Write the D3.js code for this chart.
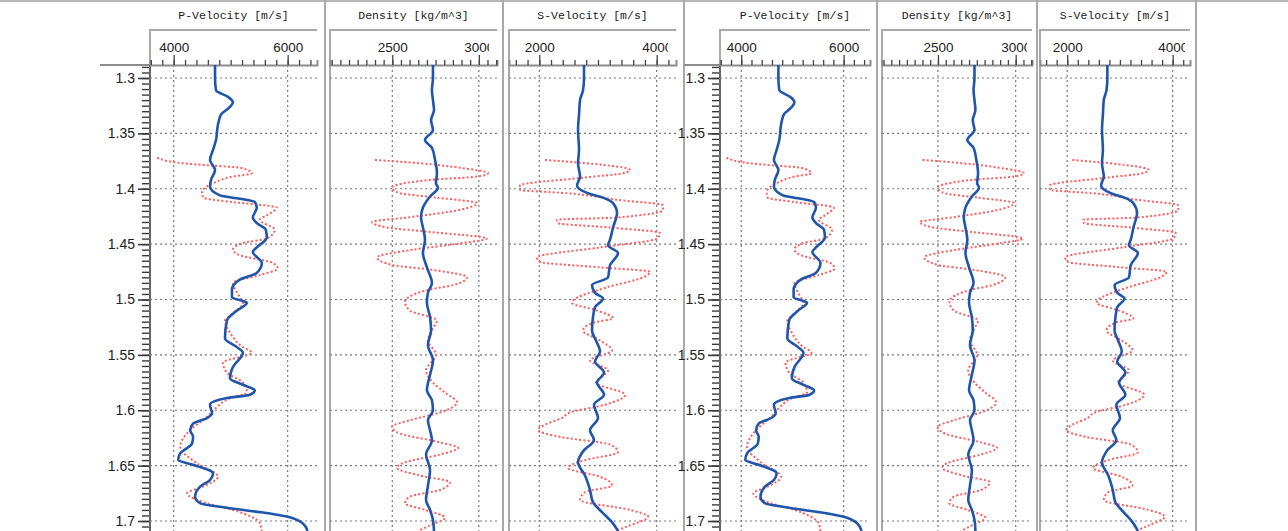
<!DOCTYPE html>
<html>
<head>
<meta charset="utf-8">
<script src="https://cdn.jsdelivr.net/npm/d3@7"></script>
<style>
  body { margin: 0; background: #fff; }
  svg { display: block; }
</style>
</head>
<body>
<div id="container"></div>
<script>
/* DATA */
const timeTicks = [1.3, 1.35, 1.4, 1.45, 1.5, 1.55, 1.6, 1.65, 1.7];
const propTitles = ["P-Velocity [m/s]", "Density [kg/m^3]", "S-Velocity [m/s]"];
const propMajorTicks = [[4000, 6000], [2500, 3000], [2000, 4000]];

// P-velocity: true model (blue) and inversion (red dotted)
const pVelTrueT = [1.288,1.300,1.311,1.317,1.322,1.327,1.333,1.342,1.356,1.365,1.374,1.383,1.392,1.398,1.406,1.409,1.412,1.417,1.426,1.431,1.437,1.444,1.453,1.457,1.467,1.476,1.482,1.491,1.498,1.503,1.510,1.519,1.535,1.543,1.548,1.561,1.571,1.577,1.582,1.586,1.589,1.595,1.603,1.607,1.612,1.618,1.624,1.630,1.639,1.645,1.649,1.657,1.663,1.669,1.678,1.684,1.688,1.692,1.696,1.702,1.709];
const pVelTrue = [4726,4726,4743,4953,5040,4970,4830,4778,4743,4691,4638,4726,4656,4638,4813,5162,5424,5459,5389,5459,5617,5634,5459,5389,5547,5459,5162,5023,5023,5285,5110,4935,4900,5110,5215,5040,4988,5215,5424,5337,4935,4638,4673,4586,4341,4289,4341,4324,4114,4079,4324,4691,4638,4464,4376,4464,4935,5512,5983,6263,6350];
const pVelInvT = [1.372,1.377,1.379,1.381,1.386,1.389,1.395,1.403,1.408,1.412,1.417,1.424,1.428,1.437,1.445,1.449,1.455,1.460,1.467,1.472,1.478,1.485,1.498,1.503,1.516,1.519,1.530,1.543,1.548,1.557,1.566,1.575,1.584,1.589,1.597,1.606,1.618,1.633,1.648,1.660,1.669,1.675,1.684,1.690,1.702,1.709];
const pVelInv = [3712,4167,4638,5162,5372,5040,4691,4498,4516,5040,5809,5634,5512,5774,5634,5215,5040,5162,5739,5826,5512,5040,5162,5215,4953,4900,4988,5215,5372,4865,4935,5215,5285,4988,4760,4586,4289,4114,4411,4778,4516,4236,4586,5040,5512,5547];

// Density
const densTrueT = [1.288,1.300,1.311,1.320,1.329,1.338,1.347,1.356,1.363,1.374,1.386,1.395,1.399,1.407,1.417,1.426,1.435,1.446,1.458,1.471,1.485,1.494,1.503,1.516,1.528,1.541,1.555,1.568,1.582,1.591,1.600,1.609,1.618,1.627,1.640,1.654,1.668,1.681,1.690,1.699,1.709];
const densTrue = [2735,2735,2729,2735,2741,2724,2735,2689,2729,2747,2758,2752,2764,2718,2677,2666,2677,2689,2677,2700,2729,2706,2700,2718,2724,2706,2735,2718,2700,2729,2735,2706,2718,2729,2695,2718,2706,2695,2718,2735,2741];
const densInvT = [1.374,1.377,1.381,1.386,1.389,1.392,1.399,1.404,1.408,1.413,1.419,1.426,1.430,1.435,1.439,1.445,1.449,1.455,1.462,1.469,1.473,1.480,1.487,1.491,1.502,1.510,1.519,1.526,1.537,1.550,1.564,1.575,1.584,1.593,1.602,1.609,1.615,1.621,1.629,1.634,1.640,1.647,1.652,1.659,1.665,1.672,1.678,1.684,1.690,1.697,1.704,1.709];
const densInv = [2400,2660,2891,3053,2990,2718,2498,2544,2758,2990,2891,2585,2383,2469,2718,3047,2908,2620,2412,2504,2718,2932,2851,2718,2573,2602,2758,2735,2706,2752,2695,2735,2804,2874,2776,2602,2498,2544,2776,2880,2776,2573,2527,2660,2833,2776,2602,2573,2689,2804,2718,2648];

// S-velocity
const sVelTrueT = [1.288,1.300,1.311,1.320,1.333,1.347,1.365,1.377,1.389,1.397,1.404,1.408,1.413,1.422,1.435,1.446,1.451,1.458,1.469,1.480,1.487,1.494,1.499,1.507,1.516,1.528,1.537,1.547,1.556,1.566,1.575,1.586,1.595,1.607,1.618,1.627,1.636,1.647,1.659,1.672,1.683,1.692,1.701,1.709];
const sVelTrue = [2762,2762,2745,2694,2677,2660,2677,2660,2694,2643,2830,3086,3256,3324,3256,3205,3171,3341,3205,3171,2898,2949,3086,2949,2915,2898,2966,3035,2949,3103,2983,3103,2932,3000,2864,2932,2762,2660,2779,2864,2915,3069,3239,3341];
const sVelInvT = [1.374,1.377,1.383,1.386,1.390,1.397,1.401,1.404,1.410,1.415,1.419,1.426,1.428,1.431,1.435,1.440,1.445,1.453,1.462,1.466,1.471,1.475,1.480,1.489,1.501,1.503,1.510,1.517,1.521,1.528,1.537,1.546,1.555,1.564,1.575,1.586,1.595,1.602,1.607,1.613,1.618,1.624,1.631,1.638,1.645,1.652,1.660,1.668,1.674,1.681,1.690,1.696,1.704,1.709];
const sVelInv = [2097,2813,3546,3427,2745,1671,1671,2472,3324,4108,4108,3324,2302,2319,3205,4057,4006,3035,1961,2012,3035,3887,3767,3154,2575,2558,2983,3256,2915,2745,3035,3239,2864,3171,2966,3461,3120,2523,2387,2097,1978,2353,3205,3341,2779,2489,3035,3239,2779,2694,3546,3853,3546,3290];

/* CONSTANTS AND GLOBALS */
const width = 1288, height = 531;
const plotTop = 65, boxTop = 30;
const domains = [[3585, 6515], [2140, 3105], [1484, 4329]];
const minorSteps = [200, 50, 200];
const blue = "#1f55aa", red = "#ff5c5c", grid = "#7a7a7a", frame = "#a9a9a9";

const props = [
  { trueT: pVelTrueT, trueV: pVelTrue, invT: pVelInvT, invV: pVelInv },
  { trueT: densTrueT, trueV: densTrue, invT: densInvT, invV: densInv },
  { trueT: sVelTrueT, trueV: sVelTrue, invT: sVelInvT, invV: sVelInv }
];

// two identical groups of three tracks
const groups = [
  { labelLeft: 100, axisX: 150, panels: [[150, 317], [330, 497], [509, 676]], seps: [325, 503, 684], labelCut: 8 },
  { labelLeft: 684, axisX: 720, panels: [[720, 870], [882, 1032], [1040, 1190]], seps: [877, 1037, 1196], labelCut: 5 }
];

const yScale = d3.scaleLinear()
  .domain([1.3, 1.7])
  .range([78, 521]);

const svg = d3.select("#container")
  .append("svg")
  .attr("width", width)
  .attr("height", height)
  .style("font-family", "'Liberation Sans', Arial, sans-serif");

// top frame line
svg.append("line")
  .attr("x1", 0).attr("x2", width)
  .attr("y1", 1).attr("y2", 1)
  .attr("stroke", "#b5b5b5").attr("stroke-width", 2);

const defs = svg.append("defs");

groups.forEach((g, gi) => {
  // separators between tracks
  g.seps.forEach(x => {
    svg.append("line")
      .attr("x1", x).attr("x2", x)
      .attr("y1", 0).attr("y2", height)
      .attr("stroke", frame).attr("stroke-width", 2);
  });

  // top line of the depth axis area
  svg.append("line")
    .attr("x1", g.labelLeft).attr("x2", g.axisX)
    .attr("y1", plotTop).attr("y2", plotTop)
    .attr("stroke", "#8c8c8c").attr("stroke-width", 2);

  // TIME AXIS (left)
  const yAxisMinor = d3.axisLeft(yScale)
    .tickValues(d3.range(1.29, 1.7081, 0.005))
    .tickSize(8)
    .tickFormat("");
  svg.append("g")
    .attr("class", "axis yMinor")
    .attr("transform", `translate(${g.axisX},0)`)
    .call(yAxisMinor)
    .call(s => s.select(".domain").remove())
    .call(s => s.selectAll("line").attr("stroke", "#3a3a3a").attr("stroke-width", 1.4));

  const yAxis = d3.axisLeft(yScale)
    .tickValues(timeTicks)
    .tickSize(12)
    .tickPadding(3)
    .tickFormat(d => d3.format("")(+d.toFixed(2)));
  svg.append("g")
    .attr("class", "axis yAxis")
    .attr("transform", `translate(${g.axisX},0)`)
    .call(yAxis)
    .call(s => s.select(".domain").remove())
    .call(s => s.selectAll("line").attr("stroke", "#3a3a3a").attr("stroke-width", 1.6))
    .call(s => s.selectAll("text").attr("font-size", 14).attr("fill", "#222"));

  svg.append("line")
    .attr("x1", g.axisX).attr("x2", g.axisX)
    .attr("y1", plotTop).attr("y2", height)
    .attr("stroke", "#666").attr("stroke-width", 2);

  g.panels.forEach(([x0, x1], pi) => {
    const p = props[pi];
    const xScale = d3.scaleLinear().domain(domains[pi]).range([x0, x1]);
    const clipId = `clip-${gi}-${pi}`;
    const hdrClip = `hclip-${gi}-${pi}`;
    defs.append("clipPath").attr("id", clipId)
      .append("rect").attr("x", x0).attr("y", plotTop).attr("width", x1 - x0).attr("height", height - plotTop);
    defs.append("clipPath").attr("id", hdrClip)
      .append("rect").attr("x", x0).attr("y", boxTop).attr("width", x1 - x0 - g.labelCut).attr("height", plotTop - boxTop);

    // title
    svg.append("text")
      .attr("x", (x0 + x1) / 2)
      .attr("y", 19)
      .attr("text-anchor", "middle")
      .attr("font-family", "'Liberation Mono', 'DejaVu Sans Mono', monospace")
      .attr("font-size", 11.5)
      .attr("fill", "#1a1a1a")
      .text(propTitles[pi]);

    // header box
    svg.append("path")
      .attr("d", `M${x0},${plotTop}V${boxTop}H${x1}`)
      .attr("fill", "none")
      .attr("stroke", frame)
      .attr("stroke-width", 2);

    // plot area left border (panels without the time axis)
    if (x0 !== g.axisX) {
      svg.append("line")
        .attr("x1", x0).attr("x2", x0)
        .attr("y1", plotTop).attr("y2", height)
        .attr("stroke", frame).attr("stroke-width", 2);
    }

    // GRID
    const gridG = svg.append("g").attr("clip-path", `url(#${clipId})`);
    gridG.selectAll(".hgrid")
      .data(timeTicks)
      .join("line")
      .attr("x1", x0).attr("x2", x1)
      .attr("y1", d => yScale(d)).attr("y2", d => yScale(d))
      .attr("stroke", grid).attr("stroke-width", 1.2).attr("stroke-dasharray", "2,3");
    gridG.selectAll(".vgrid")
      .data(propMajorTicks[pi])
      .join("line")
      .attr("x1", d => xScale(d)).attr("x2", d => xScale(d))
      .attr("y1", plotTop).attr("y2", height)
      .attr("stroke", grid).attr("stroke-width", 1.2).attr("stroke-dasharray", "2,3");

    // TOP AXIS
    const [dmin, dmax] = domains[pi];
    const step = minorSteps[pi];
    const minorVals = d3.range(Math.ceil(dmin / step) * step, dmax, step);
    svg.append("g")
      .attr("transform", `translate(0,${plotTop})`)
      .call(d3.axisTop(xScale).tickValues(minorVals).tickSize(5).tickFormat(""))
      .call(s => s.select(".domain").attr("stroke", "#8c8c8c").attr("stroke-width", 2))
      .call(s => s.selectAll("line").attr("stroke", "#444").attr("stroke-width", 1.3));
    svg.append("g")
      .attr("clip-path", `url(#${hdrClip})`)
      .append("g")
      .attr("transform", `translate(0,${plotTop})`)
      .call(d3.axisTop(xScale).tickValues(propMajorTicks[pi]).tickSize(10).tickPadding(3).tickFormat(d3.format("d")))
      .call(s => s.select(".domain").remove())
      .call(s => s.selectAll("line").attr("stroke", "#444").attr("stroke-width", 1.3))
      .call(s => s.selectAll("text").attr("font-size", 13.5).attr("fill", "#222")
        .attr("font-family", "'Liberation Sans', Arial, sans-serif"));

    // CURVES
    const lineGen = d3.line()
      .x(d => xScale(d[1]))
      .y(d => yScale(d[0]))
      .curve(d3.curveMonotoneY);

    const curveG = svg.append("g").attr("clip-path", `url(#${clipId})`);
    curveG.append("path")
      .datum(d3.zip(p.invT, p.invV))
      .attr("d", lineGen)
      .attr("fill", "none")
      .attr("stroke", red)
      .attr("stroke-width", 2)
      .attr("stroke-dasharray", "2,2.2");
    curveG.append("path")
      .datum(d3.zip(p.trueT, p.trueV))
      .attr("d", lineGen)
      .attr("fill", "none")
      .attr("stroke", blue)
      .attr("stroke-width", 2.6);
  });
});
</script>
</body>
</html>
